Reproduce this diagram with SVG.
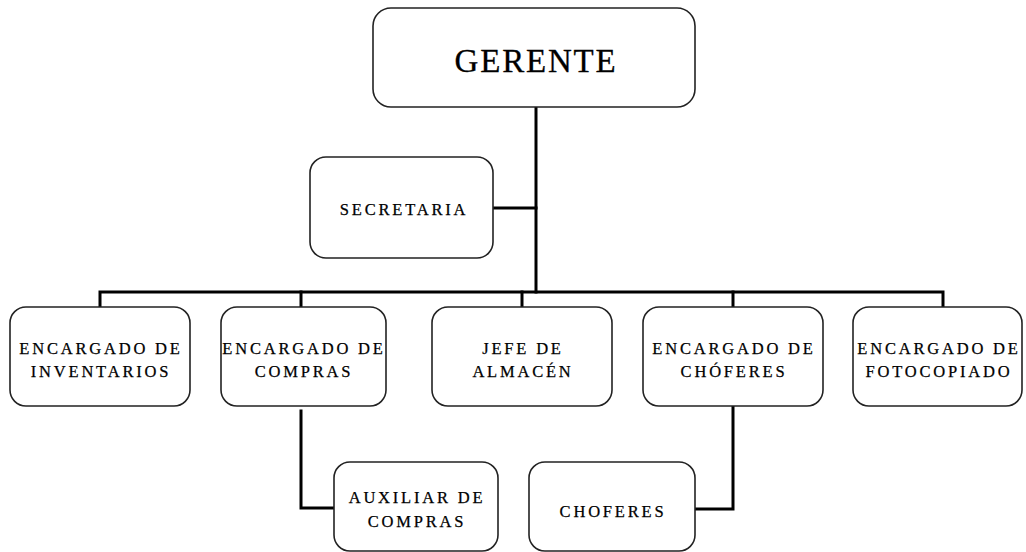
<svg xmlns="http://www.w3.org/2000/svg" width="1026" height="552" viewBox="0 0 1026 552">
<style>
.box{fill:#fff;stroke:#222;stroke-width:1.6}
.t{font-family:"Liberation Serif","Times New Roman",serif;font-size:16.5px;letter-spacing:2.8px;text-anchor:middle;fill:#000;stroke:#000;stroke-width:0.25}
.big{font-size:33px;letter-spacing:1.8px;stroke-width:0.3}
.c{fill:none;stroke:#000;stroke-width:3;stroke-linecap:square}
</style>
<rect width="1026" height="552" fill="#fff"/>
<g id="connectors">
<path class="c" d="M536 107 V292"/>
<path class="c" d="M493 208 H536"/>
<path class="c" d="M100 307 V292 H943 V307"/>
<path class="c" d="M301 292 V307"/>
<path class="c" d="M522 292 V307"/>
<path class="c" d="M733 292 V307"/>
<path class="c" d="M301 411 V508 H334"/>
<path class="c" d="M733 406 V509 H695"/>
</g>
<g id="gerente"><rect class="box" x="373" y="8" width="322" height="99" rx="18"/><text class="t big" x="536" y="72">GERENTE</text></g>
<g id="secretaria"><rect class="box" x="310" y="157" width="183" height="101" rx="16"/><text class="t" x="404" y="215">SECRETARIA</text></g>
<g id="inventarios"><rect class="box" x="10" y="307" width="180" height="99" rx="16"/><text class="t" x="101" y="354">ENCARGADO DE</text><text class="t" x="101" y="377">INVENTARIOS</text></g>
<g id="compras"><rect class="box" x="221" y="307" width="165" height="99" rx="16"/><text class="t" x="304" y="354">ENCARGADO DE</text><text class="t" x="304" y="377">COMPRAS</text></g>
<g id="almacen"><rect class="box" x="432" y="307" width="180" height="99" rx="16"/><text class="t" x="523" y="354">JEFE DE</text><text class="t" x="523" y="377">ALMACÉN</text></g>
<g id="choferes-enc"><rect class="box" x="643" y="307" width="180" height="99" rx="16"/><text class="t" x="734" y="354">ENCARGADO DE</text><text class="t" x="734" y="377">CHÓFERES</text></g>
<g id="fotocopiado"><rect class="box" x="853" y="307" width="169" height="99" rx="16"/><text class="t" x="939" y="354">ENCARGADO DE</text><text class="t" x="939" y="377">FOTOCOPIADO</text></g>
<g id="auxiliar"><rect class="box" x="334" y="462" width="164" height="89" rx="16"/><text class="t" x="417" y="503">AUXILIAR DE</text><text class="t" x="417" y="527">COMPRAS</text></g>
<g id="choferes"><rect class="box" x="529" y="462" width="166" height="89" rx="16"/><text class="t" x="613" y="517">CHOFERES</text></g>
</svg>
